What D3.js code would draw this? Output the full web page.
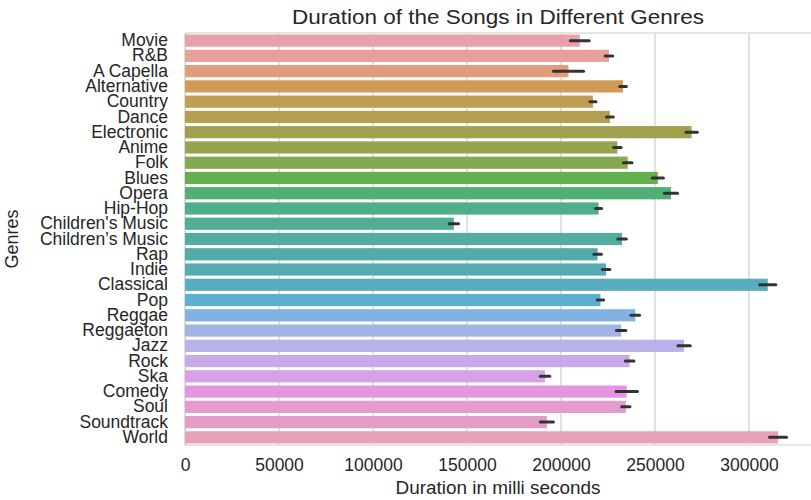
<!DOCTYPE html>
<html>
<head>
<meta charset="utf-8">
<script src="https://cdn.jsdelivr.net/npm/d3@7"></script>
<style>
  html, body { margin: 0; padding: 0; background: #fff; }
  svg { display: block; font-family: "Liberation Sans", Arial, sans-serif; }
</style>
</head>
<body>
<svg id="chart" width="811" height="500"></svg>
<script>
// ---------------- Data ----------------
const genres = ["Movie","R&B","A Capella","Alternative","Country","Dance","Electronic","Anime","Folk","Blues","Opera","Hip-Hop","Children's Music","Children\u2019s Music","Rap","Indie","Classical","Pop","Reggae","Reggaeton","Jazz","Rock","Ska","Comedy","Soul","Soundtrack","World"];
const meanDuration = [210000,225500,204000,233000,217000,226000,269500,230000,235500,251500,258500,220000,143000,232500,219500,224000,310000,221000,239500,232000,265500,236500,191500,235000,234500,192500,315500];
const ciHalfWidth = [5000,2000,8000,1800,1600,1800,3000,2000,2300,3000,3500,1600,2500,2300,2000,2000,4300,1700,2300,2500,3300,2300,2500,5700,2200,3500,4500];
const xTicks = [0,50000,100000,150000,200000,250000,300000];
const titleText = "Duration of the Songs in Different Genres";
const xLabel = "Duration in milli seconds";
const yLabel = "Genres";

// ---------------- HUSL palette (seaborn-style husl_palette) ----------------
const M = [[3.2406,-1.5372,-0.4986],[-0.9689,1.8758,0.0415],[0.0557,-0.2040,1.0570]];
const refU = 0.19784, refV = 0.46834, labE = 0.008856, labK = 903.3;
function maxChroma(L, H) {
  const hr = H * Math.PI / 180, sinH = Math.sin(hr), cosH = Math.cos(hr);
  const sub1 = Math.pow(L + 16, 3) / 1560896;
  const sub2 = sub1 > labE ? sub1 : L / labK;
  let result = Infinity;
  for (const [m1, m2, m3] of M) {
    const top = (0.99915 * m1 + 1.05122 * m2 + 1.14460 * m3) * sub2;
    const rb = 0.86330 * m3 - 0.17266 * m2;
    const lb = 0.12949 * m3 - 0.38848 * m1;
    const bottom = (rb * sinH + lb * cosH) * sub2;
    for (const t of [0, 1]) {
      const C = L * (top - 1.05122 * t) / (bottom + 0.17266 * sinH * t);
      if (C > 0 && C < result) result = C;
    }
  }
  return result;
}
function fInv(t) { return Math.pow(t, 3) > labE ? Math.pow(t, 3) : (116 * t - 16) / labK; }
function toSRGB(c) { return c <= 0.0031308 ? 12.92 * c : 1.055 * Math.pow(c, 1 / 2.4) - 0.055; }
function huslToRgb(H, S, L) {
  let C = (L > 99.9999 || L < 0.00001) ? 0 : maxChroma(L, H) / 100 * S;
  const hr = H * Math.PI / 180;
  const U = Math.cos(hr) * C, V = Math.sin(hr) * C;
  const Y = fInv((L + 16) / 116);
  const vU = U / (13 * L) + refU, vV = V / (13 * L) + refV;
  const X = 0 - (9 * Y * vU) / ((vU - 4) * vV - vU * vV);
  const Z = (9 * Y - 15 * vV * Y - vV * X) / (3 * vV);
  return M.map(r => Math.min(1, Math.max(0, toSRGB(r[0] * X + r[1] * Y + r[2] * Z))));
}
function huslPalette(n, h = 0.01, s = 0.9, l = 0.72) {
  const out = [];
  for (let i = 0; i < n; i++) {
    const hue = ((i / n + h) % 1) * 359;
    const [r, g, b] = huslToRgb(hue, s * 99, l * 99);
    const c = d3.hsl(d3.rgb(r * 255, g * 255, b * 255));
    c.s *= 0.68;
    out.push(c.formatHex());
  }
  return out;
}
const palette = huslPalette(genres.length);

// ---------------- Chart ----------------
const W = 811, H = 500;
const margin = { top: 33, right: 0, bottom: 55, left: 185 };
const svg = d3.select("#chart");
const iw = W - margin.left - margin.right, ih = H - margin.top - margin.bottom;

const x = d3.scaleLinear().domain([0, 333000]).range([0, iw]);
const idx = d3.range(genres.length);
const y = d3.scaleBand().domain(idx).range([0, ih]).paddingInner(0.2).paddingOuter(0.1);

const g = svg.append("g").attr("transform", `translate(${margin.left},${margin.top})`);

// grid
g.append("g").selectAll("line").data(xTicks).join("line")
  .attr("x1", d => x(d)).attr("x2", d => x(d))
  .attr("y1", 0).attr("y2", ih)
  .attr("stroke", "#cccccc").attr("stroke-width", 1.2);

// spines
g.append("line").attr("x1", 0).attr("x2", iw).attr("y1", 0).attr("y2", 0).attr("stroke", "#dcdcdc").attr("stroke-width", 1.5);
g.append("line").attr("x1", 0).attr("x2", iw).attr("y1", ih).attr("y2", ih).attr("stroke", "#dcdcdc").attr("stroke-width", 1.5);
g.append("line").attr("x1", 0).attr("x2", 0).attr("y1", 0).attr("y2", ih).attr("stroke", "#dcdcdc").attr("stroke-width", 1.5);

// bars
g.append("g").selectAll("rect").data(idx).join("rect")
  .attr("x", x(0)).attr("y", i => y(i))
  .attr("width", i => x(meanDuration[i]) - x(0))
  .attr("height", y.bandwidth())
  .attr("fill", i => palette[i]);

// error bars
g.append("g").selectAll("line").data(idx).join("line")
  .attr("x1", i => x(meanDuration[i] - ciHalfWidth[i]))
  .attr("x2", i => x(meanDuration[i] + ciHalfWidth[i]))
  .attr("y1", i => y(i) + y.bandwidth() / 2)
  .attr("y2", i => y(i) + y.bandwidth() / 2)
  .attr("stroke", "#333333").attr("stroke-width", 3).attr("stroke-linecap", "round");

// x axis
const xAxis = g.append("g").attr("transform", `translate(0,${ih})`)
  .call(d3.axisBottom(x).tickValues(xTicks).tickFormat(d3.format("d")).tickSize(0).tickPadding(14));
xAxis.select(".domain").remove();
xAxis.selectAll("text").attr("fill", "#262626").style("font-size", "17.5px");

// y axis
const yAxis = g.append("g")
  .call(d3.axisLeft(y).tickFormat(i => genres[i]).tickSize(0).tickPadding(17));
yAxis.select(".domain").remove();
yAxis.selectAll("text").attr("fill", "#262626").style("font-size", "17.5px");

// title
svg.append("text").attr("x", margin.left + iw / 2).attr("y", 24)
  .attr("text-anchor", "middle").attr("fill", "#262626").style("font-size", "20px")
  .attr("textLength", 412).attr("lengthAdjust", "spacingAndGlyphs").text(titleText);

// axis labels
svg.append("text").attr("x", margin.left + iw / 2).attr("y", 494)
  .attr("text-anchor", "middle").attr("fill", "#262626").style("font-size", "18px")
  .attr("textLength", 205).attr("lengthAdjust", "spacingAndGlyphs").text(xLabel);
svg.append("text").attr("transform", `translate(18,${margin.top + ih / 2}) rotate(-90)`)
  .attr("text-anchor", "middle").attr("fill", "#262626").style("font-size", "18px").text(yLabel);
</script>
</body>
</html>
